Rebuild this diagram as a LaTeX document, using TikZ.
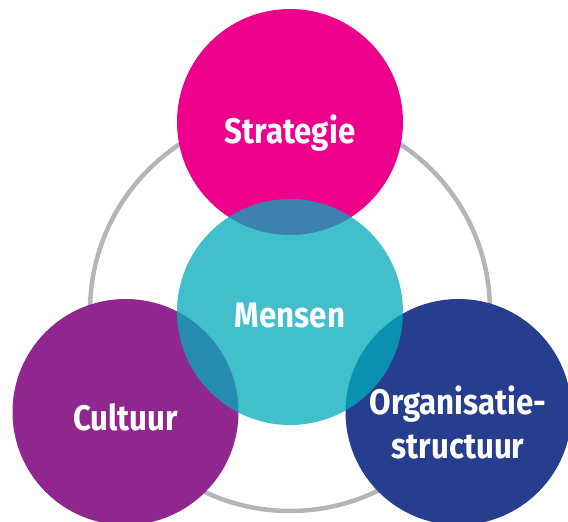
\documentclass[tikz,border=0pt]{standalone}
\usepackage{fontspec}
\setmainfont{Fira Sans}[FakeStretch=0.88]
\definecolor{cStrat}{HTML}{EC008C}
\definecolor{cCult}{HTML}{90278E}
\definecolor{cOrg}{HTML}{263E8D}
\definecolor{cMens}{RGB}{5,171,187}
\definecolor{cRing}{HTML}{B4B4B9}
\tikzset{
  disc/.style={circle, inner sep=0pt, minimum size=226pt},
  lbl/.style={text=white, anchor=base, inner sep=0pt, font=\fontsize{35.5}{44}\selectfont\bfseries, align=center},
}
\begin{document}
\begin{tikzpicture}[x=1pt,y=-1pt]
\useasboundingbox (0,0) rectangle (568,522);
\node[circle, draw=cRing, line width=4.5pt, inner sep=0pt, minimum size=400pt] (ring) at (290,311) {};
\node[disc, fill=cStrat] (strat) at (290,122) {};
\node[disc, fill=cCult] (cult) at (125.5,412) {};
\node[disc, fill=cOrg] (org) at (458.5,412) {};
\node[disc, fill=cMens, fill opacity=0.76] (mens) at (290,312) {};
\node[lbl] (tstrat) at (290,143) {Strategie};
\node[lbl] (tmens) at (290,327) {Mensen};
\node[lbl] (tcult) at (125.5,430) {Cultuur};
\node[lbl] (torg1) at (458,414) {Organisatie-};
\node[lbl] (torg2) at (458,458) {structuur};
\end{tikzpicture}
\end{document}
